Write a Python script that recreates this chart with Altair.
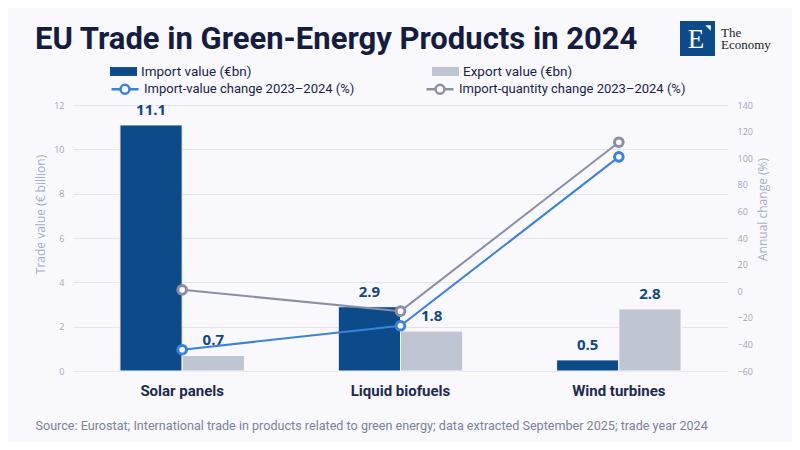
import altair as alt
import pandas as pd

# ---------------- data ----------------
categories = ["Solar panels", "Liquid biofuels", "Wind turbines"]
import_value = [11.1, 2.9, 0.5]
export_value = [0.7, 1.8, 2.8]
import_value_change = [-44, -26, 101]
import_quantity_change = [1, -15, 112]

bar_series = ["Import value (€bn)", "Export value (€bn)"]
line_series = ["Import-value change 2023–2024 (%)", "Import-quantity change 2023–2024 (%)"]

left_ticks = [0, 2, 4, 6, 8, 10, 12]
right_ticks = [-60, -40, -20, 0, 20, 40, 60, 80, 100, 120, 140]

TITLE = "EU Trade in Green-Energy Products in 2024"
SOURCE = ("Source: Eurostat; International trade in products related to green energy; "
          "data extracted September 2025; trade year 2024")

# ---------------- style ----------------
BG = "#F8F8FD"
COND = "Roboto, sans-serif"
SANS = "'Open Sans', sans-serif"
SERIF = "'Liberation Serif', 'DejaVu Serif', serif"
NAVY = "#161C3F"
IMPORT_C = "#0D4A89"
EXPORT_C = "#BFC5D1"
LINE_BLUE = "#3B82D8"
LINE_GRAY = "#8B8FA3"

bars_df = pd.DataFrame({
    "category": categories * 2,
    "series": [bar_series[0]] * 3 + [bar_series[1]] * 3,
    "value": import_value + export_value,
})
lines_df = pd.DataFrame({
    "category": categories * 2,
    "series": [line_series[0]] * 3 + [line_series[1]] * 3,
    "pct": import_value_change + import_quantity_change,
})

x_enc = alt.X(
    "category:N", sort=categories,
    scale=alt.Scale(paddingInner=0.43, paddingOuter=0.215),
    axis=alt.Axis(
        title=SOURCE, labelAngle=0, labelFont=COND, labelFontWeight="bold",
        labelFontSize=15, labelColor="#1E2A4C", labelPadding=12,
        ticks=False, domain=False,
        titleX=-38, titleY=58, titleAlign="left", titleAnchor="start",
        titleBaseline="alphabetic",
        titleFont=COND, titleFontSize=12.6, titleFontWeight="normal", titleColor="#7C8298",
    ),
)

bar_color = alt.Color(
    "series:N", sort=bar_series,
    scale=alt.Scale(domain=bar_series, range=[IMPORT_C, EXPORT_C]),
    legend=alt.Legend(
        title=None, orient="none", legendX=37, legendY=-47, direction="horizontal",
        symbolType="M-1,-0.33L1,-0.33L1,0.33L-1,0.33Z", symbolSize=729,
        symbolStrokeWidth=0, labelFont=COND, labelFontSize=13.5, labelColor="#1B2447",
        labelOffset=4, columnPadding=180, padding=0, labelLimit=400,
    ),
)

y_left = alt.Y(
    "value:Q", scale=alt.Scale(domain=[0, 12], nice=False),
    axis=alt.Axis(
        orient="left", values=left_ticks, title="Trade value (€ billion)",
        grid=True, gridColor="#E3E4EC", domain=False, ticks=False,
        labelFont=SANS, labelFontSize=9, labelColor="#A3A8BC", labelPadding=9,
        labelOverlap=False,
        titleFont=SANS, titleFontSize=12, titleFontWeight="normal", titleColor="#A9AEC2",
        titleX=-33, titleY=109, titleAngle=270, titleBaseline="middle", titleAlign="center",
    ),
)

bars = alt.Chart(bars_df).mark_bar(stroke=BG, strokeWidth=1).encode(
    x=x_enc,
    xOffset=alt.XOffset("series:N", sort=bar_series),
    y=y_left,
    color=bar_color,
)

bar_text = alt.Chart(bars_df).mark_text(
    dy=-10, baseline="alphabetic", font=SANS, fontWeight="bold", fontSize=15, color="#12477F"
).encode(
    x=x_enc,
    xOffset=alt.XOffset("series:N", sort=bar_series),
    y=y_left,
    text=alt.Text("value:Q", format=".1f"),
)

line_color = alt.Color(
    "series:N", sort=line_series,
    scale=alt.Scale(domain=line_series, range=[LINE_BLUE, LINE_GRAY]),
    legend=alt.Legend(
        title=None, orient="none", legendX=37, legendY=-31, direction="horizontal",
        symbolType="M-1,0L-0.33,0M0.33,0L1,0M-0.33,0A0.33,0.33,0,1,0,0.33,0A0.33,0.33,0,1,0,-0.33,0",
        symbolSize=729, symbolStrokeWidth=2.5, symbolFillColor=BG,
        labelFont=COND, labelFontSize=13, labelColor="#1B2447",
        labelOffset=4, columnPadding=66, padding=0, labelLimit=400,
    ),
)

y_right = alt.Y(
    "pct:Q", scale=alt.Scale(domain=[-60, 140], nice=False),
    axis=alt.Axis(
        orient="right", values=right_ticks, title="Annual change (%)",
        grid=False, domain=False, ticks=False, labelOverlap=False, labelSeparation=0,
        labelFont=SANS, labelFontSize=9, labelColor="#A3A8BC", labelPadding=9,
        titleFont=SANS, titleFontSize=12, titleFontWeight="normal", titleColor="#A9AEC2",
        titleX=34, titleY=104, titleAngle=270, titleBaseline="middle", titleAlign="center",
    ),
)

lines = alt.Chart(lines_df).mark_line(strokeWidth=2).encode(
    x=x_enc, y=y_right, color=line_color,
)
points = alt.Chart(lines_df).mark_point(
    filled=False, fill=BG, size=75, strokeWidth=3, opacity=1
).encode(
    x=x_enc, y=y_right, color=line_color,
)

# ---------------- logo ----------------
one = pd.DataFrame({"k": [0]})
logo_box = alt.Chart(one).mark_rect(color=IMPORT_C).encode(
    x=alt.value(607), x2=alt.value(642), y=alt.value(-84), y2=alt.value(-49)
)
logo_e = alt.Chart(one).mark_text(
    text="E", font=SERIF, fontSize=27, color="white", baseline="middle", align="center"
).encode(x=alt.value(623), y=alt.value(-65))
logo_tri = alt.Chart(one).mark_point(
    shape="M-1,-1L1,-1L1,1Z", filled=True, color="white", size=30, opacity=1
).encode(x=alt.value(635), y=alt.value(-77))
logo_the = alt.Chart(one).mark_text(
    text="The", font=SERIF, fontSize=13, color="#222222", baseline="alphabetic", align="left"
).encode(x=alt.value(648), y=alt.value(-68))
logo_econ = alt.Chart(one).mark_text(
    text="Economy", font=SERIF, fontSize=13, color="#222222", baseline="alphabetic", align="left"
).encode(x=alt.value(648), y=alt.value(-56))

left = alt.layer(bars, bar_text)
right = alt.layer(lines, points)

chart = alt.layer(left, right, logo_box, logo_e, logo_tri, logo_the, logo_econ).resolve_scale(
    y="independent", color="independent"
).resolve_legend(color="independent").properties(
    width=655, height=266,
    autosize=alt.AutoSizeParams(type="none"),
    padding={"left": 65, "top": 97, "right": 64, "bottom": 71},
    background=BG,
    title=alt.TitleParams(
        text=TITLE, anchor="start", frame="group", font=COND, fontSize=31,
        fontWeight="bold", color=NAVY, dx=-38, offset=-35,
    ),
).configure_view(stroke=None).configure_axis(labelOverlap=False)

chart.save("out.html", embed_options={"renderer": "svg", "actions": False})
